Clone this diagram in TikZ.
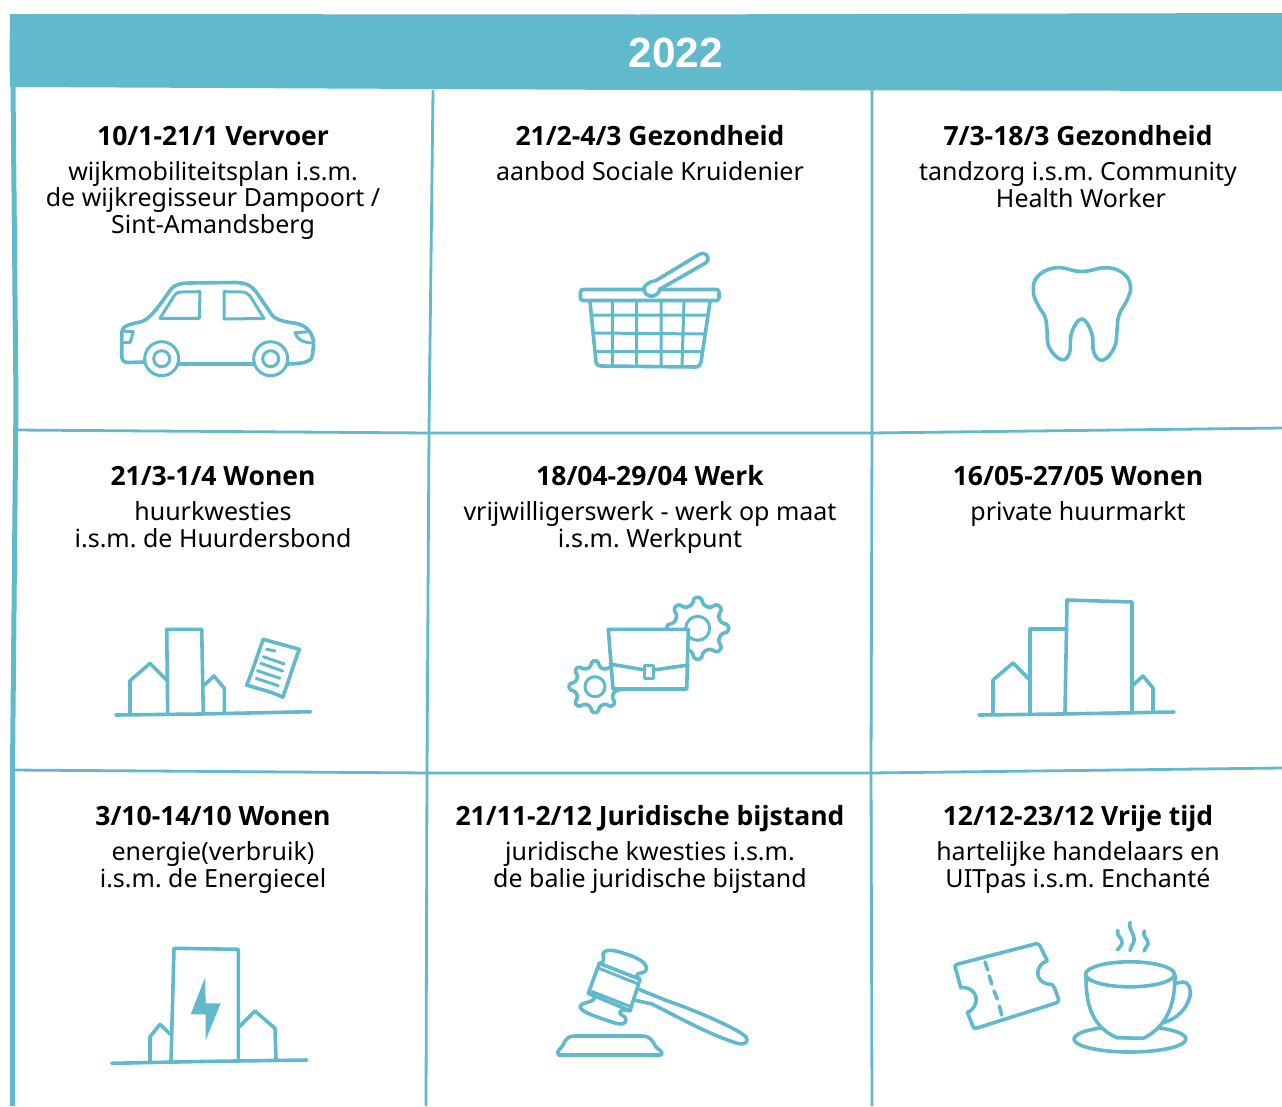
\documentclass[tikz,border=0pt]{standalone}
\usepackage{fontspec}
\setmainfont{Noto Sans}
\newfontfamily\headfont{Open Sans}
\newfontfamily\titlefont{Liberation Sans}
\usetikzlibrary{calc}
\definecolor{teal}{HTML}{61B9CC}
\tikzset{
  ic/.style={draw=teal,line width=3.6pt,line join=round,line cap=round},
  icw/.style={ic,fill=white},
  icthin/.style={ic,line width=3pt},
  rule/.style={draw=teal,line width=2.8pt},
  head/.style={anchor=base,inner sep=0pt,font=\fontsize{26.5}{27}\selectfont\headfont\bfseries,text=black},
  body/.style={anchor=base,inner sep=0pt,align=center,font=\frenchspacing\fontsize{25}{26.8}\selectfont,text=black},
}
\newcommand{\gearshape}[5]{%
 \draw[icw,rounded corners=1.6pt] ($(#1,#2)+(#5+6:#4)$) \foreach \k in {0,45,...,315}{
     -- ($(#1,#2)+(#5+\k+6:#4)$) -- ($(#1,#2)+(#5+\k+14:#3)$) -- ($(#1,#2)+(#5+\k+31:#3)$) -- ($(#1,#2)+(#5+\k+39:#4)$)
   } -- cycle;}
\begin{document}
\begin{tikzpicture}[x=1pt,y=-1pt]
\useasboundingbox (0,0) rectangle (1282,1106);
\fill[white] (0,0) rectangle (1282,1106);
% header
\fill[teal] (10,14) -- (640,14.5) -- (1282,13) -- (1282,91) -- (640,90) -- (15,87) -- (10,87) -- (9.5,60) -- cycle;
\draw[teal,line width=5pt] (13,86) -- (16,400) -- (12.5,770) -- (12.5,1106);
% grid
\draw[rule] (433,90) -- (429,430) -- (427,770) -- (426,1106);
\draw[rule] (872,90) -- (872,430) -- (871,770) -- (872,1106);
\draw[rule] (15,430) -- (430,433) -- (870,433) -- (1282,428);
\draw[rule] (12,770) -- (430,773) -- (870,773) -- (1282,768);
\node[text=white,inner sep=0pt,anchor=base,font=\fontsize{42.3}{42}\selectfont\bfseries\titlefont] (year) at (676,67) {2022};
% texts
\node[head] (h1) at (213,145) {10/1-21/1 Vervoer};
\node[body] (b1) at (213,233.7) {wijkmobiliteitsplan i.s.m.\\de wijkregisseur Dampoort /\\Sint-Amandsberg};
\node[head] (h2) at (650,145) {21/2-4/3 Gezondheid};
\node[body] (b2) at (650,180) {aanbod Sociale Kruidenier};
\node[head] (h3) at (1078,145) {7/3-18/3 Gezondheid};
\node[body] (b3) at (1078,207) {tandzorg i.s.m. Community\\\hspace*{6pt}Health Worker};
\node[head] (h4) at (213,485) {21/3-1/4 Wonen};
\node[body] (b4) at (213,547) {huurkwesties\\i.s.m. de Huurdersbond};
\node[head] (h5) at (650,485) {18/04-29/04 Werk};
\node[body] (b5) at (650,547) {vrijwilligerswerk - werk op maat\\i.s.m. Werkpunt};
\node[head] (h6) at (1078,485) {16/05-27/05 Wonen};
\node[body] (b6) at (1078,520) {private huurmarkt};
\node[head] (h7) at (213,825) {3/10-14/10 Wonen};
\node[body] (b7) at (213,887) {energie(verbruik)\\i.s.m. de Energiecel};
\node[head] (h8) at (650,825) {21/11-2/12 Juridische bijstand};
\node[body] (b8) at (650,887) {juridische kwesties i.s.m.\\de balie juridische bijstand};
\node[head] (h9) at (1078,825) {12/12-23/12 Vrije tijd};
\node[body] (b9) at (1078,887) {hartelijke handelaars en\\UITpas i.s.m. Enchant\'e};
% car
\draw[ic] (144,362) -- (128,362.5) .. controls (123,362) and (122,360) .. (121.7,356) -- (121.7,332) .. controls (122,326) and (130,324) .. (141.7,321.7)
  .. controls (150,318) and (155,312) .. (171,289) .. controls (175,284.5) and (180,283.5) .. (188,283) -- (236,282.5)
  .. controls (246,283) and (251,285) .. (257,293) -- (272,315) .. controls (276,320) and (285,322) .. (297,323.5)
  .. controls (308,326) and (314,335) .. (313.5,345) -- (312.5,355) .. controls (312,361) and (306,363.5) .. (288,364);
\draw[ic] (178,364) -- (253,364);
\draw[icthin] (161.7,358.7) circle[radius=17];
\draw[icthin] (161.7,358.7) circle[radius=8];
\draw[icthin] (270.7,358.7) circle[radius=17];
\draw[icthin] (270.7,358.7) circle[radius=8];
\draw[icthin] (160,318.3) -- (174,296) .. controls (176,293) and (178,292) .. (182,292) -- (200,291.7) -- (199.3,318.3) -- cycle;
\draw[icthin] (224,291.7) -- (242,292) .. controls (246,292) and (248,294) .. (250,296) -- (264,318.5) -- (224,319) -- cycle;
\draw[icthin] (123.3,331) -- (133.3,331.7) -- (130,342.7) -- (123.3,342.7);
\draw[icthin] (309,331.7) -- (295,332.7) .. controls (297,339) and (302,342) .. (311,343);
% basket
\draw[ic] (590,301.7) -- (596,362) .. controls (596.5,365) and (598,366) .. (601,366) -- (696,367) .. controls (699,367) and (700,365) .. (701,362) -- (710,301.7);
\draw[ic,rounded corners=2.5pt] (580.5,289.5) rectangle (719,300.5);
\draw[icthin] (612.3,301) -- (612.3,365) (636.7,301) -- (636.7,366) (661,301) -- (661,366) (684,301) -- (682,366)
  (593,315) -- (707,315) (595,333) -- (704,334) (597,351.5) -- (702,351.5);
\draw[icw] (649,283) .. controls (652,280.5) and (654,282) .. (656,280.5) -- (699,254.5) .. controls (704,251) and (709,255.5) .. (708,260) .. controls (707.5,262) and (705,263) .. (703,264.5)
 -- (660,289) .. controls (658,297) and (650,298) .. (646,294) .. controls (642,290) and (644,285) .. (649,283) -- cycle;
% tooth
\draw[ic] plot[smooth cycle,tension=.72] coordinates {(1081.7,271.5) (1056.7,267.7) (1038,276) (1033.3,291) (1038,305) (1045,317) (1047,330) (1049,347) (1061,359.5) (1069.5,353) (1071.5,333) (1081.7,319) (1091.7,333) (1094,353) (1103.3,360) (1114.5,347) (1117,330) (1119,315) (1127,300) (1130.5,287) (1124,274) (1106.7,267.7)};
% building 1
\draw[ic] (116,715) -- (200,714) -- (310.7,711.7);
\draw[ic] (130,713.3) -- (130,680.7) -- (150,663.3) -- (166.7,680);
\draw[ic] (167.7,713) -- (166.7,629.3) -- (201.7,629.3) -- (203.3,713);
\draw[ic] (203.3,686) -- (214,676) -- (224.3,688.3) -- (224.3,711.7);
\draw[ic] (263.3,639.3) -- (299.3,649.3) .. controls (294,663) and (288,683) .. (282.7,697.3) .. controls (271,691) and (258,689) .. (246.7,685) .. controls (253,670) and (258,653) .. (263.3,639.3) -- cycle;
\draw[icthin] (266.7,649.3) -- (275,651) (263.3,656.7) -- (284.3,664) (260.7,663.3) -- (282.7,671) (257.3,670.7) -- (280,678.3) (256,678.3) -- (278.3,685.7);
% gears + case
\gearshape{697.7}{628.3}{24}{31}{0}
\draw[icthin] (697.7,628.3) circle[radius=12];
\gearshape{595}{686.7}{20}{26}{0}
\draw[icthin] (595,686.7) circle[radius=10];
\draw[icw] (608.3,629.3) -- (688.3,629.3) -- (686.7,689) -- (613,689) -- cycle;
\draw[ic] (610,664) -- (645,670) (653.3,670) -- (688.3,665);
\draw[icw,line width=3pt] (644.3,665) rectangle (653.3,678.3);
% building 2
\draw[ic] (979,715) -- (1060,714) -- (1174,712);
\draw[ic] (993,713) -- (993,680) -- (1013,663) -- (1030,680);
\draw[ic] (1030,713) -- (1030,629) -- (1065,629);
\draw[ic] (1065,712) -- (1067,600) -- (1132,602) -- (1132,711);
\draw[ic] (1132,686) -- (1143,676) -- (1153,688) -- (1153,711);
% energy building
\draw[ic] (111.7,1063.3) -- (200,1061.5) -- (306.7,1060);
\draw[ic] (171,1061) -- (174,948.3) -- (238.3,949.3) -- (238.3,1060);
\fill[teal] (205,977.7) -- (190.7,1014.3) -- (205.7,1014.3) -- (205.7,1040) -- (220.7,1003.3) -- (205.7,1003.3) -- cycle;
\draw[ic] (150,1061) -- (150,1036.7) -- (160,1024.3) -- (170,1034);
\draw[ic] (239.3,1026.7) -- (255,1011) -- (275,1028.3) -- (276,1060);
% gavel
\draw[ic] (558.5,1055) .. controls (556,1051) and (560,1050) .. (563,1045) .. controls (566,1038) and (569,1036) .. (575,1036) -- (642,1036) .. controls (650,1036) and (652,1040) .. (656,1047) .. controls (659,1050) and (664,1052) .. (661,1055) -- cycle;
\draw[ic] (634,1000) -- (652,1004) .. controls (680,1018) and (710,1035) .. (738,1043.5) .. controls (745,1045) and (749,1042) .. (746,1037) .. controls (740,1030) and (700,1012) .. (665,1000) -- (639,989.3);
\draw[ic] (599.3,963.3) -- (640,979.3) -- (630,1010.7) -- (588.3,993.3) -- cycle;
\draw[icthin] (599,968.3) -- (637,983.5) (592,991.5) -- (630,1006.5);
\draw[ic] (599.3,963.3) .. controls (606,962) and (603,957) .. (603,954) .. controls (604,950) and (610,949.5) .. (616,951) .. controls (630,955) and (647,960) .. (646.5,969) .. controls (646,974) and (638,972) .. (636.7,975) .. controls (636,977) and (639,978) .. (640,979.3);
\draw[ic] (588.3,993.3) .. controls (590,994.5) and (595,995) .. (594.3,998) .. controls (593,1003) and (581,1002) .. (580,1006.5) .. controls (580,1012) and (600,1018) .. (615,1023) .. controls (621,1025) and (626,1024) .. (626,1020) .. controls (626,1015) and (618,1015) .. (620,1011.5) .. controls (622,1009) and (628,1011) .. (630,1010.7);
% ticket
\draw[ic] (956,970) .. controls (954,966.5) and (955,965) .. (958,964) -- (1035,944) .. controls (1038,943) and (1040,945) .. (1041,948) -- (1047.3,960.7) .. controls (1034,965) and (1034,984) .. (1051,984.3) .. controls (1053,984.5) and (1054,986) .. (1058.5,999) .. controls (1059,1001) and (1058,1002) .. (1056,1003) -- (977,1028) .. controls (974,1029) and (973,1027) .. (972,1024) -- (967.3,1012.3) .. controls (981,1007) and (979,986) .. (960.7,987.7) -- cycle;
\draw[ic] (985,962) -- (987.7,970) (989.3,976) -- (991.7,984) (994,991) -- (997.3,999) (999.3,1006) -- (1001.7,1015);
% cup
\draw[ic] (1130,1039) ellipse[x radius=56,y radius=13];
\draw[icw] (1175,983.3) -- (1183,982) .. controls (1189,982) and (1191,989) .. (1190,996) .. controls (1187,1008) and (1178,1019) .. (1162,1023);
\draw[icw] (1086,975) .. controls (1086,1000) and (1089,1025) .. (1116.7,1037.7) -- (1143.3,1038.3) .. controls (1170,1025) and (1175,1000) .. (1175,975) -- cycle;
\draw[icw] (1130,974.3) ellipse[x radius=44.5,y radius=12.5];
\draw[ic] (1117.7,930.5) .. controls (1116,937) and (1123,937) .. (1122,943) .. controls (1121,947) and (1118,948) .. (1117.5,950);
\draw[ic] (1130,922.5) .. controls (1128,930) and (1135,933) .. (1134,941) .. controls (1133,945) and (1130,947) .. (1130,950.5);
\draw[ic] (1144.3,931) .. controls (1142,938) and (1149,938) .. (1148,944) .. controls (1147,947) and (1144,949) .. (1144,951);
\end{tikzpicture}
\end{document}
